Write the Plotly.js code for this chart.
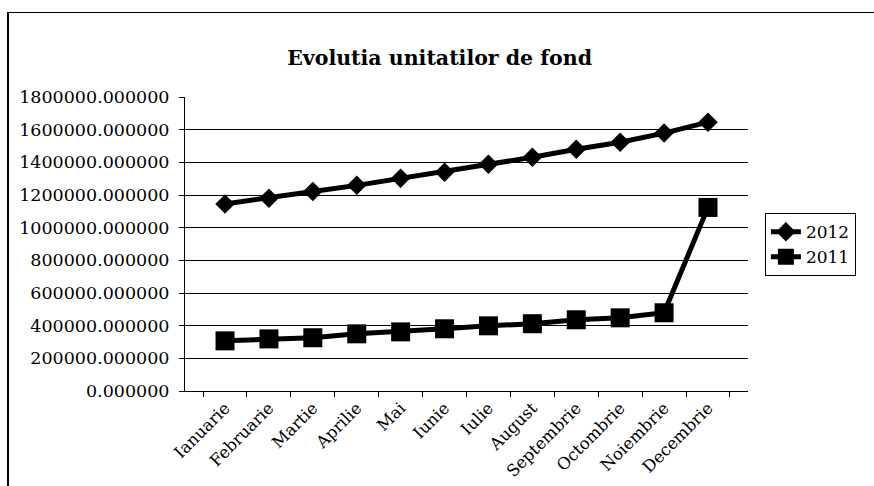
<!DOCTYPE html>
<html>
<head>
<meta charset="utf-8">
<script src="https://cdn.plot.ly/plotly-3.0.1.min.js"></script>
<style>
  html, body { margin: 0; padding: 0; background: #fff; }
  #chart { width: 874px; height: 486px; position: relative; }
  #frame { position: absolute; left: 7px; top: 12px; width: 867px; height: 474px;
           border-top: 1px solid #000; border-left: 2px solid #000; pointer-events: none; }
</style>
</head>
<body>
<div id="chart"></div>
<div id="frame"></div>
<script>
// Chart data
const months = ['Ianuarie', 'Februarie', 'Martie', 'Aprilie', 'Mai', 'Iunie',
                'Iulie', 'August', 'Septembrie', 'Octombrie', 'Noiembrie', 'Decembrie'];
const values2012 = [1145000, 1180000, 1222000, 1259000, 1302000, 1339000,
                    1388000, 1431000, 1480000, 1523000, 1579000, 1646000];
const values2011 = [307000, 319000, 326000, 350000, 362000, 381000,
                    399000, 412000, 436000, 448000, 479000, 1124000];
const yTicks = [0, 200000, 400000, 600000, 800000, 1000000, 1200000, 1400000, 1600000, 1800000];

const serif = 'DejaVu Serif, Liberation Serif, serif';

Plotly.newPlot('chart', [{
    x: months,
    y: values2012,
    name: '2012',
    type: 'scatter',
    mode: 'lines+markers',
    line: { color: '#000', width: 5 },
    marker: { symbol: 'diamond', size: 15, color: '#000' }
}, {
    x: months,
    y: values2011,
    name: '2011',
    type: 'scatter',
    mode: 'lines+markers',
    line: { color: '#000', width: 5 },
    marker: { symbol: 'square', size: 19, color: '#000' }
}], {
    width: 874,
    height: 486,
    margin: { l: 185, r: 126, t: 97, b: 95 },
    paper_bgcolor: '#fff',
    plot_bgcolor: '#fff',
    font: { family: serif, color: '#000', size: 15 },
    title: {
        text: '<b>Evolutia unitatilor de fond</b>',
        font: { family: serif, size: 20.5, color: '#000' },
        x: 0.503, xref: 'container', xanchor: 'center', y: 0.88, yanchor: 'middle'
    },
    xaxis: {
        type: 'category',
        tickangle: -45,
        ticks: 'outside',
        tickson: 'boundaries',
        ticklen: 5,
        tickcolor: '#000',
        showgrid: false,
        showline: true,
        linecolor: '#000',
        linewidth: 1,
        tickfont: { family: serif, size: 16.5 }
    },
    yaxis: {
        range: [0, 1800000],
        tickvals: yTicks,
        tickformat: '.6f',
        ticks: 'outside',
        ticklen: 5,
        tickcolor: '#000',
        showgrid: true,
        gridcolor: '#000',
        gridwidth: 1,
        showline: true,
        linecolor: '#000',
        linewidth: 1,
        zeroline: false,
        ticklabelstandoff: 6,
        tickfont: { family: serif, size: 17.5 }
    },
    showlegend: true,
    legend: {
        x: 1.03, y: 0.605, xanchor: 'left', yanchor: 'top',
        bordercolor: '#000', borderwidth: 1,
        bgcolor: '#fff',
        font: { family: serif, size: 17 },
        tracegroupgap: 0,
        itemwidth: 30
    }
}, { displayModeBar: false, staticPlot: true });
</script>
</body>
</html>
